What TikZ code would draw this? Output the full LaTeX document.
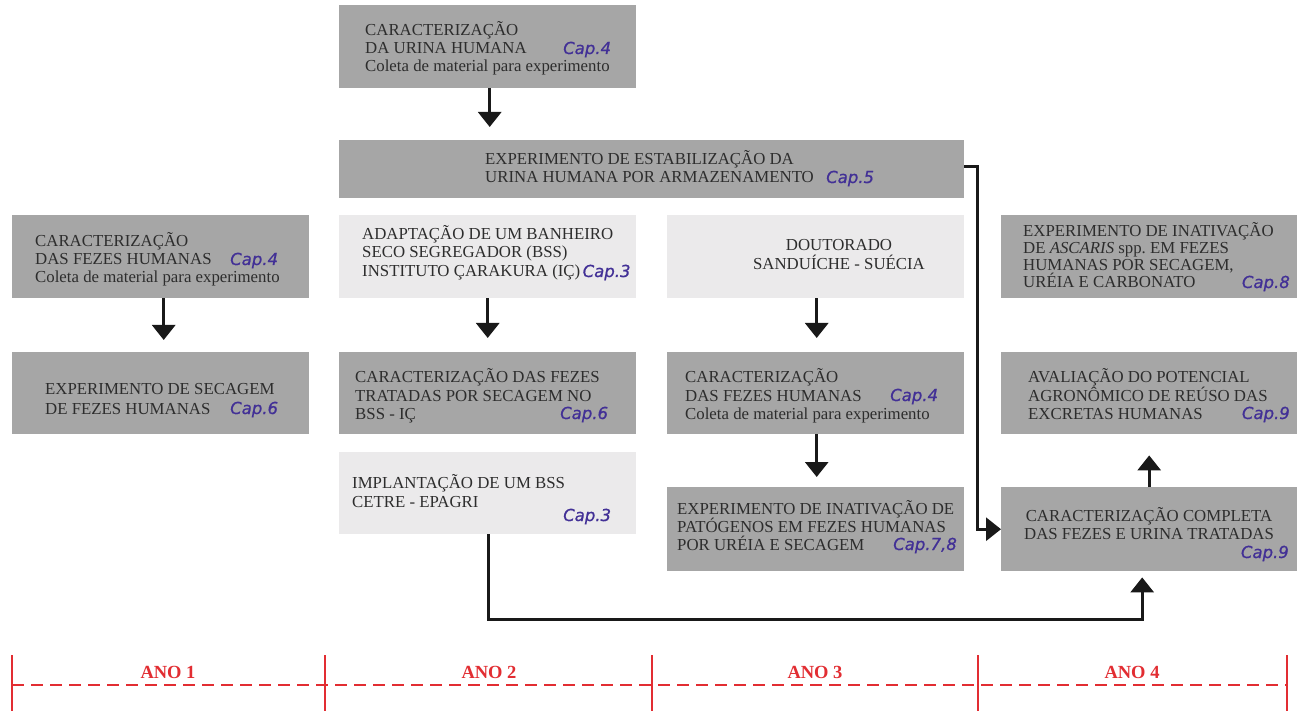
\documentclass[tikz,border=0pt]{standalone}
\usepackage{fontspec}
\setmainfont{Liberation Serif}
\newfontfamily\capfont{DejaVu Sans}[FakeBold=0.8]
\usetikzlibrary{arrows.meta}
\definecolor{boxgray}{RGB}{166,166,166}
\definecolor{boxlight}{RGB}{235,234,235}
\definecolor{txtgray}{RGB}{45,45,45}
\definecolor{capblue}{RGB}{66,48,150}
\definecolor{linered}{RGB}{226,45,50}
\definecolor{arrblack}{RGB}{25,25,25}
\frenchspacing
\begin{document}
\begin{tikzpicture}[x=1pt,y=-1pt,
  gbox/.style={fill=boxgray, draw=none, anchor=north west, minimum width=297pt, inner sep=0pt},
  lbox/.style={fill=boxlight, draw=none, anchor=north west, minimum width=297pt, inner sep=0pt},
  txt/.style={anchor=base west, inner sep=0pt, text=txtgray, font=\fontsize{16.8}{18}\selectfont},
  ctxt/.style={txt, anchor=base},
  caplbl/.style={anchor=base west, inner sep=0pt, text=capblue, font=\capfont\itshape\fontsize{16.5}{18}\selectfont},
  rcaplbl/.style={caplbl, anchor=base east},
  arr/.style={line width=3pt, draw=arrblack, -{Triangle[width=23pt,length=15pt]}},
  anolbl/.style={anchor=base, inner sep=0pt, text=linered, font=\bfseries\fontsize{18.5}{20}\selectfont},
  yeartick/.style={line width=1.6pt, draw=linered},
  dashline/.style={line width=1.6pt, draw=linered, dash pattern=on 12pt off 7pt}
]
\useasboundingbox (0,0) rectangle (1299,711);
\fill[white] (0,0) rectangle (1299,711);

% ---------- boxes ----------
\node[gbox, minimum height=83pt] (A)  at (339,5)   {};
\node[gbox, minimum width=625pt, minimum height=58pt] (B) at (339,140) {};
\node[gbox, minimum height=83pt] (C1) at (12,215)  {};
\node[gbox, minimum height=82pt] (C2) at (12,352)  {};
\node[lbox, minimum height=83pt] (D1) at (339,215) {};
\node[gbox, minimum height=82pt] (D2) at (339,352) {};
\node[lbox, minimum height=82pt] (D3) at (339,452) {};
\node[lbox, minimum height=83pt] (E1) at (667,215) {};
\node[gbox, minimum height=82pt] (E2) at (667,352) {};
\node[gbox, minimum height=84pt] (E3) at (667,487) {};
\node[gbox, minimum width=296pt, minimum height=83pt] (F1) at (1001,215) {};
\node[gbox, minimum width=296pt, minimum height=82pt] (F2) at (1001,352) {};
\node[gbox, minimum width=296pt, minimum height=84pt] (CC) at (1001,487) {};

% ---------- texts ----------
\node[txt] (A1) at (365,36) {CARACTERIZAÇÃO};
\node[txt] (A2) at (365,54) {DA URINA HUMANA};
\node[txt] (A3) at (365,72) {Coleta de material para experimento};
\node[caplbl] (Ac) at (563,54) {Cap.4};

\node[txt] (B1) at (485,165) {EXPERIMENTO DE ESTABILIZAÇÃO DA};
\node[txt] (B2) at (485,183) {URINA HUMANA POR ARMAZENAMENTO};
\node[caplbl] (Bc) at (826,183) {Cap.5};

\node[txt] (C11) at (35,247) {CARACTERIZAÇÃO};
\node[txt] (C12) at (35,265) {DAS FEZES HUMANAS};
\node[txt] (C13) at (35,283) {Coleta de material para experimento};
\node[caplbl] (C1c) at (230,265) {Cap.4};

\node[txt] (C21) at (45,395) {EXPERIMENTO DE SECAGEM};
\node[txt] (C22) at (45,414) {DE FEZES HUMANAS};
\node[caplbl] (C2c) at (230,414) {Cap.6};

\node[txt] (D11) at (362,240) {ADAPTAÇÃO DE UM BANHEIRO};
\node[txt] (D12) at (362,258) {SECO SEGREGADOR (BSS)};
\node[txt] (D13) at (362,277) {INSTITUTO ÇARAKURA (IÇ)};
\node[caplbl] (D1c) at ([xshift=2pt]D13.base east) {Cap.3};

\node[txt] (D21) at (355,383) {CARACTERIZAÇÃO DAS FEZES};
\node[txt] (D22) at (355,401) {TRATADAS POR SECAGEM NO};
\node[txt] (D23) at (355,419) {BSS - IÇ};
\node[caplbl] (D2c) at (560,419) {Cap.6};

\node[txt] (D31) at (352,488) {IMPLANTAÇÃO DE UM BSS};
\node[txt] (D32) at (352,507) {CETRE - EPAGRI};
\node[caplbl] (D3c) at (563,521) {Cap.3};

\node[ctxt] (E11) at (839,251) {DOUTORADO};
\node[ctxt] (E12) at (839,270) {SANDUÍCHE - SUÉCIA};

\node[txt] (E21) at (685,383) {CARACTERIZAÇÃO};
\node[txt] (E22) at (685,401) {DAS FEZES HUMANAS};
\node[txt] (E23) at (685,419) {Coleta de material para experimento};
\node[caplbl] (E2c) at (890,401) {Cap.4};

\node[txt] (E31) at (677,514) {EXPERIMENTO DE INATIVAÇÃO DE};
\node[txt] (E32) at (677,532) {PATÓGENOS EM FEZES HUMANAS};
\node[txt] (E33) at (677,550) {POR URÉIA E SECAGEM};
\node[rcaplbl] (E3c) at (957,550) {Cap.7,8};

\node[txt] (F11) at (1023,237) {EXPERIMENTO DE INATIVAÇÃO};
\node[txt] (F12) at (1023,254) {DE \textit{ASCARIS} spp. EM FEZES};
\node[txt] (F13) at (1023,271) {HUMANAS POR SECAGEM,};
\node[txt] (F14) at (1023,288) {URÉIA E CARBONATO};
\node[rcaplbl] (F1c) at (1290,288) {Cap.8};

\node[txt] (F21) at (1028,383) {AVALIAÇÃO DO POTENCIAL};
\node[txt] (F22) at (1028,401) {AGRONÔMICO DE REÚSO DAS};
\node[txt] (F23) at (1028,419) {EXCRETAS HUMANAS};
\node[rcaplbl] (F2c) at (1290,419) {Cap.9};

\node[ctxt] (CC1) at (1149,521) {CARACTERIZAÇÃO COMPLETA};
\node[ctxt] (CC2) at (1149,539) {DAS FEZES E URINA TRATADAS};
\node[rcaplbl] (CCc) at (1289,558) {Cap.9};

% ---------- connectors ----------
\draw[arr, shorten >=13pt] ([xshift=2pt]A.south) -- ([xshift=2pt]A.south |- B.north);
\draw[arr, shorten >=12pt] ([xshift=3pt]C1.south) -- ([xshift=3pt]C2.north);
\draw[arr, shorten >=14pt] (D1.south) -- (D2.north);
\draw[arr, shorten >=14pt] ([xshift=1pt]E1.south) -- ([xshift=1pt]E2.north);
\draw[arr, shorten >=10pt] ([xshift=1pt]E2.south) -- ([xshift=1pt]E3.north);
\draw[arr, shorten >=21pt] (CC.north) -- (F2.south);
\coordinate (Bturn) at (977,167);
\draw[arr] (B.east |- Bturn) -- (Bturn) |- (CC.west);
\coordinate (Dbottom) at (700,619);
\draw[arr, shorten >=6pt] ([xshift=1pt]D3.south) |- (Dbottom) -| ([xshift=-7pt]CC.south);

% ---------- timeline ----------
\draw[dashline] (12,685) -- (1287,685);
\foreach \xx in {12,325,652,978,1287} \draw[yeartick] (\xx,655) -- (\xx,711);
\node[anolbl] (Y1) at (168,678) {ANO 1};
\node[anolbl] (Y2) at (489,678) {ANO 2};
\node[anolbl] (Y3) at (815,678) {ANO 3};
\node[anolbl] (Y4) at (1132,678) {ANO 4};
\end{tikzpicture}
\end{document}
